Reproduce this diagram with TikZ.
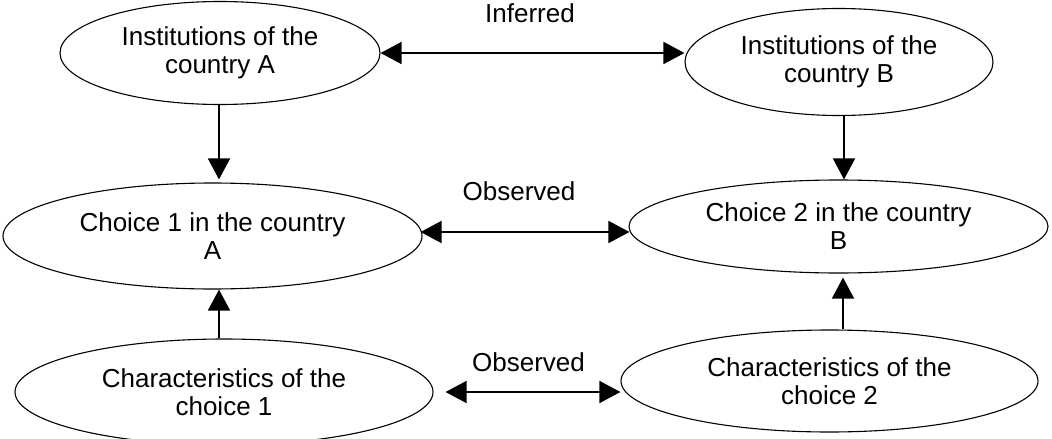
\documentclass[tikz,border=0pt]{standalone}
\usepackage{fontspec}
\setmainfont{Liberation Sans}
\usetikzlibrary{shapes.geometric,arrows.meta,calc}
\begin{document}
\begin{tikzpicture}[x=1pt,y=-1pt,
  ell/.style={ellipse,draw,line width=1.1pt,inner sep=0pt,align=center,font=\fontsize{26}{28}\selectfont},
  lbl/.style={anchor=base,font=\fontsize{26}{28}\selectfont,inner sep=0pt},
  tip/.style={Triangle[length=21pt,width=22pt]},
  conn/.style={line width=1.6pt,-{Triangle[length=21pt,width=22pt]}},
  biconn/.style={line width=1.6pt,{Triangle[length=21pt,width=22pt]}-{Triangle[length=21pt,width=22pt]}}]
\useasboundingbox (0,0) rectangle (1052,439);
\fill[white] (0,0) rectangle (1052,439);

\node[ell,minimum width=320pt,minimum height=103pt] (A) at (220,53) {Institutions of the\\country A};
\node[ell,minimum width=308pt,minimum height=107pt] (B) at (839,62) {Institutions of the\\country B};
\node[ell,minimum width=419pt,minimum height=106pt] (C1) at (212.5,236) {Choice 1 in the country\\A};
\node[ell,minimum width=419pt,minimum height=93pt] (C2) at (838.5,226.5) {Choice 2 in the country\\B};
\node[ell,minimum width=418pt,minimum height=106pt] (CH1) at (224,392) {Characteristics of the\\choice 1};
\node[ell,minimum width=417pt,minimum height=102pt] (CH2) at (829.5,381) {Characteristics of the\\choice 2};

\node[lbl] (inf) at (530,23) {Inferred};
\node[lbl] (obs1) at (519,200) {Observed};
\node[lbl] (obs2) at (528.5,371) {Observed};

\draw[biconn] (A.east) -- (A.east -| B.west);
\draw[biconn] ($(C1.east)+(-2,-4)$) -- ($(C2.west)+(1,5.5)$);
\draw[biconn] ($(CH1.east)+(12,0)$) -- (CH1.east -| CH2.west);

\draw[conn] ($(A.south)+(-1,0)$) -- ($(A.south |- C1.north)+(-1,-3)$);
\draw[conn] ($(B.south)+(5,0)$) -- ($(B.south |- C2.north)+(5,0)$);
\draw[conn] ($(CH1.north)+(-5,0)$) -- ($(CH1.north |- C1.south)+(-5,0)$);
\draw[conn] ($(CH2.north)+(13.5,0)$) -- ($(CH2.north |- C2.south)+(13.5,4)$);
\end{tikzpicture}
\end{document}
